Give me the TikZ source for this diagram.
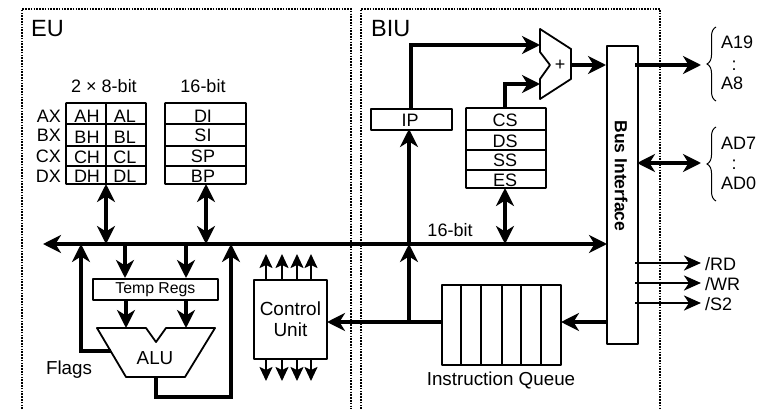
\documentclass[tikz,border=0pt]{standalone}
\usepackage{fontspec}
\setmainfont{Liberation Sans}
\usetikzlibrary{arrows.meta,decorations.pathreplacing,calc}
\tikzset{
  x=1pt,y=-1pt,
  tip/.tip={Stealth[length=18pt,width=18pt,inset=5.5pt]},
  thintip/.tip={Stealth[length=17pt,width=15pt,inset=5pt]},
  busline/.style={line width=3.6pt,-{tip}},
  dbl/.style={line width=3.6pt,{tip}-{tip}},
  midline/.style={line width=3.3pt,-{tip},line join=miter},
  thinarrow/.style={line width=2.7pt,-{thintip}},
  ctl/.style={line width=2pt,-{Stealth[length=14pt,width=13pt,inset=3pt]}},
  boxs/.style={draw,line width=1.8pt,line join=round},
  divider/.style={line width=1.8pt},
  frame/.style={draw,line width=1.8pt,dash pattern=on 1.6pt off 1.2pt},
  lbl/.style={font=\fontsize{18}{18}\selectfont,inner sep=0pt},
  big/.style={font=\fontsize{23.5}{23.5}\selectfont,inner sep=0pt},
  mid/.style={font=\fontsize{18.8}{18.8}\selectfont,inner sep=0pt},
}
\begin{document}
\begin{tikzpicture}
\useasboundingbox (0,0) rectangle (765,409);
% frames
\coordinate (eubl) at (22,409); \coordinate (eutl) at (22,9); \coordinate (eutr) at (351,9); \coordinate (eubr) at (351,409);
\coordinate (bibl) at (361,409); \coordinate (bitl) at (361,9); \coordinate (bitr) at (660,9); \coordinate (bibr) at (660,409);
\draw[frame] (eubl) -- (eutl) -- (eutr) -- (eubr);
\draw[frame] (bibl) -- (bitl) -- (bitr) -- (bibr);
\node[big,anchor=base west] (eu) at (31,37) {EU};
\node[big,anchor=base west] (biu) at (371,37) {BIU};
% registers
\node[lbl,anchor=base] (t28) at (104,93) {2 × 8-bit};
\node[lbl,anchor=base] (t16) at (203,93) {16-bit};
\coordinate (rb) at (106,184); \coordinate (rc) at (206,184);
\draw[boxs,rounded corners=0.5pt] (66,103) rectangle (146,184);
\draw[divider] (66,124) -- (146,124) (66,146) -- (146,146) (66,166) -- (146,166) (106,103) -- (106,184);
\draw[boxs,rounded corners=0.5pt] (165,103) rectangle (246,184);
\draw[divider] (165,124) -- (246,124) (165,146) -- (246,146) (165,166) -- (246,166);
\foreach \n/\y in {AX/123,BX/142,CX/162,DX/182}{\node[lbl,anchor=base east] (l\n) at (61,\y) {\n};}
\foreach \a/\b/\y in {AH/AL/122,BH/BL/143,CH/CL/163,DH/DL/182}{
  \node[lbl,anchor=base] (r\a) at (87,\y) {\a};
  \node[lbl,anchor=base] (r\b) at (125,\y) {\b};}
\foreach \a/\y in {DI/122,SI/142,SP/162,BP/182}{\node[lbl,anchor=base] (r\a) at (203,\y) {\a};}
% bus
\coordinate (busl) at (43,244); \coordinate (busr) at (607,244);
\draw[dbl] (busl) -- (busr);
\draw[dbl] (rb) -- (106,244);
\draw[dbl] (rc) -- (206,244);
\node[lbl,anchor=base] (t16b) at (450,236) {16-bit};
% temp regs
\node[boxs,minimum width=125pt,minimum height=21pt,inner sep=0pt,anchor=north west,font=\fontsize{15.8}{15.8}\selectfont] (temp) at (92,278) {Temp Regs};
\draw[busline] (125,244) -- (125,278);
\draw[busline] (186,244) -- (186,278);
\draw[busline] (126,299) -- (126,328);
\draw[busline] (186,299) -- (186,328);
% ALU
\draw[boxs] (97,328) -- (146,328) -- (156,342) -- (166,328) -- (215,328) -- (185,377) -- (126,377) -- cycle;
\node[mid,anchor=center] (alu) at (155,358) {ALU};
\node[mid,anchor=center] (flags) at (69,370) {Flags};
\draw[midline] (110.5,351) -- (81,351) -- (81,244);
\draw[midline] (156,377) -- (156,397) -- (231,397) -- (231,244);
% control unit
\node[boxs,minimum width=73pt,minimum height=79pt,inner sep=0pt,anchor=north west,align=center,font=\fontsize{19}{21}\selectfont] (cu) at (253,279) {Control\\Unit};
\foreach \x in {266,282,297,311}{
  \draw[ctl] (\x,279) -- (\x,254);
  \draw[ctl] (\x,358) -- (\x,381);}
% queue
\node[boxs,minimum width=119pt,minimum height=80pt,inner sep=0pt,anchor=north west] (q) at (441,284) {};
\foreach \x in {461,481,502,521,541}{\draw[divider] (\x,284) -- (\x,364);}
\node[mid,anchor=center] (qt) at (501,380) {Instruction Queue};
% bus interface
\node[boxs,minimum width=31pt,minimum height=298pt,inner sep=0pt,anchor=north west] (bi) at (606,45) {};
\node[font=\bfseries\fontsize{17.5}{17.5}\selectfont,rotate=-90,inner sep=0pt] (bit) at (621,176) {Bus Interface};
\draw[busline] (606,322) -- (561,322);
\draw[busline] (441,322) -- (327,322);
\draw[busline] (409,322) -- (409,244);
\draw[busline] (409,244) -- (409,129);
% IP, segments
\node[boxs,minimum width=81pt,minimum height=21pt,inner sep=0pt,anchor=north west] (ip) at (370,108) {};
\node[lbl,anchor=base] (ipt) at (410,127) {IP};
\draw[boxs,rounded corners=0.5pt] (466,108) rectangle (546,188);
\draw[divider] (466,130) -- (546,130) (466,150) -- (546,150) (466,170) -- (546,170);
\foreach \a/\y in {CS/126,DS/147,SS/166,ES/186}{\node[lbl,anchor=base] (r\a) at (505,\y) {\a};}
\draw[dbl] (505,188) -- (505,244);
% mux
\draw[boxs] (540,29) -- (571,49) -- (571,79) -- (540,99) -- (540,79) -- (550,65) -- (540,52) -- cycle;
\node[lbl,anchor=center] (plus) at (560,65) {+};
\draw[midline] (411,108) -- (411,45) -- (540,45);
\draw[midline] (505,108) -- (505,84) -- (540,84);
\draw[busline] (571,65) -- (606,65);
% outputs
\draw[busline] (635,65) -- (701,65);
\draw[dbl] (637,163) -- (701,163);
\foreach \y/\n in {263/rd,283/wr,303/stwo}{\draw[thinarrow] (635,\y) -- (701,\y);}
\node[lbl,anchor=base west] (trd) at (705,270) {/RD};
\node[lbl,anchor=base west] (twr) at (705,290) {/WR};
\node[lbl,anchor=base west] (ts2) at (705,310) {/S2};
\draw[line width=1pt,decorate,decoration={brace,amplitude=9pt,aspect=0.5}] (716,101) -- (716,27);
\draw[line width=1pt,decorate,decoration={brace,amplitude=9pt,aspect=0.5}] (716,201) -- (716,127);
\node[lbl,anchor=base west] (a19) at (721,49) {A19};
\node[lbl,anchor=base] (ad) at (734,71) {:};
\node[lbl,anchor=base west] (a8) at (721,90) {A8};
\node[lbl,anchor=base west] (ad7) at (721,149) {AD7};
\node[lbl,anchor=base] (adb) at (734,169) {:};
\node[lbl,anchor=base west] (ad0) at (721,189) {AD0};
\end{tikzpicture}
\end{document}
